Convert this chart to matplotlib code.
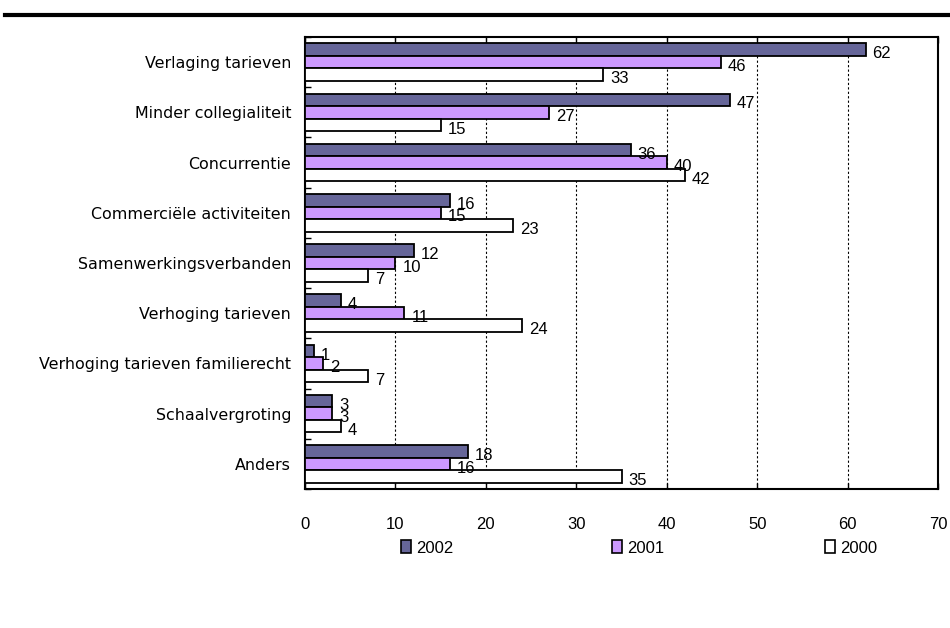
import matplotlib
matplotlib.use("Agg")
import matplotlib.pyplot as plt
import numpy as np
from matplotlib.lines import Line2D
from matplotlib import font_manager as fm

categories = ["Verlaging tarieven", "Minder collegialiteit", "Concurrentie",
              "Commerciële activiteiten", "Samenwerkingsverbanden",
              "Verhoging tarieven", "Verhoging tarieven familierecht",
              "Schaalvergroting", "Anders"]
series_names = ["2002", "2001", "2000"]
v2002 = [62, 47, 36, 16, 12, 4, 1, 3, 18]
v2001 = [46, 27, 40, 15, 10, 11, 2, 3, 16]
v2000 = [33, 15, 42, 23, 7, 24, 7, 4, 35]
x_ticks = [0, 10, 20, 30, 40, 50, 60, 70]

colors = ["#666699", "#CC99FF", "#FFFFFF"]

plt.rcParams['font.family'] = ['DejaVu Sans']
num_font = "Liberation Sans"
num_size = 12
num_kw = dict(family=num_font, fontsize=num_size)

fig = plt.figure(figsize=(9.5, 6.28), dpi=100)
ax = fig.add_axes([305/950, 1 - 489/628, (938-305)/950, (489-37)/628])

n = len(categories)
y = np.arange(n)
h = 0.25
for i, (vals, col, name) in enumerate(zip([v2002, v2001, v2000], colors, series_names)):
    pos = y + (i - 1) * h
    ax.barh(pos, vals, height=h, color=col, edgecolor="black", linewidth=1.3,
            label=name, zorder=3)
    for p, v in zip(pos, vals):
        ax.annotate(str(v), (v, p), xytext=(5, -3), textcoords="offset points",
                    ha="left", va="center", zorder=4, **num_kw)

ax.set_xlim(0, 70)
ax.set_ylim(n - 0.5, -0.5)
ax.set_yticks(y)
ax.set_yticklabels(categories, fontsize=11.4)
ax.set_xticks(x_ticks)
ax.set_xticklabels([str(t) for t in x_ticks])
for t in ax.get_xticklabels():
    t.set_fontfamily(num_font)
    t.set_fontsize(num_size)
ax.tick_params(axis="x", direction="in", length=4, width=1, top=True, pad=20)
ax.tick_params(axis="y", length=0, pad=10)
ax.set_yticks(np.arange(n + 1) - 0.5, minor=True)
ax.tick_params(axis="y", which="minor", length=4, direction="in", width=1)
ax.xaxis.grid(True, linestyle=(0, (2, 2)), color="black", linewidth=0.8, zorder=0)
for s in ax.spines.values():
    s.set_linewidth(1.5)
    s.set_color("black")

handles = [plt.Rectangle((0, 0), 1, 1, facecolor=c, edgecolor="black", linewidth=1.2)
           for c in colors]
for hnd, name, xpos in zip(handles, series_names, [393/950, 604/950, 817/950]):
    fig.legend([hnd], [name], loc="center left", bbox_to_anchor=(xpos, 1 - 548/628),
               frameon=False, prop=fm.FontProperties(family=num_font, size=num_size),
               handlelength=0.6, handleheight=0.8, handletextpad=0.3, borderpad=0)

fig.add_artist(Line2D([5/950, 1.0], [1 - 15/628, 1 - 15/628], color="black",
                      linewidth=3, transform=fig.transFigure))

fig.savefig("out.png", dpi=100)
